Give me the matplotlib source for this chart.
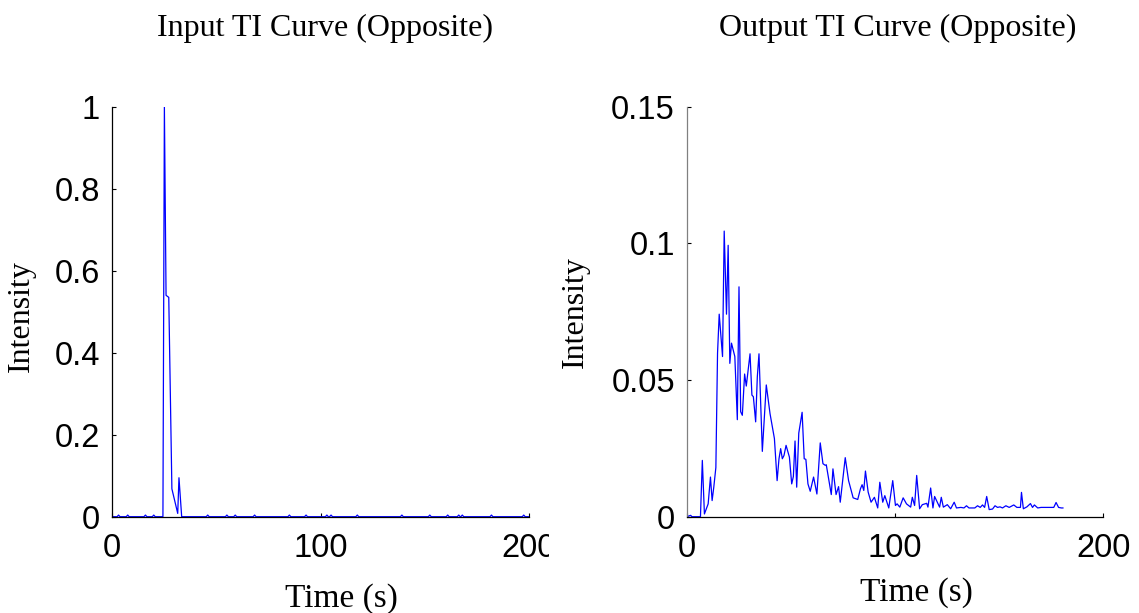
import numpy as np
import matplotlib
matplotlib.use("Agg")
import matplotlib.pyplot as plt
from matplotlib.transforms import Bbox

# Input time-intensity curve (opposite side)
t_in = [0, 2.3, 3.0, 3.7, 6.7, 7.4, 8.1, 15.2, 15.9, 16.6, 19.2, 19.9, 20.6,
        24.3, 25.0, 25.8, 27.1, 28.6, 31.4, 32.0, 33.3,
        45.1, 45.8, 46.5, 54.3, 55.0, 55.7, 58.3, 59.0, 59.7, 67.6, 68.3, 69.0,
        84.3, 85.0, 85.7, 92.3, 93.0, 93.7, 102.3, 103.0, 103.7, 104.3, 105.0,
        105.7, 116.9, 117.6, 118.3, 138.3, 139.0, 139.7, 151.7, 152.4, 153.1,
        160.3, 161.0, 161.7, 165.6, 166.3, 167.0, 167.3, 168.0, 168.7,
        181.3, 182.0, 182.7, 196.8, 197.5, 198.2, 200]
v_in = [0, 0, 0.004, 0, 0, 0.004, 0, 0, 0.004, 0, 0, 0.004, 0,
        0, 1.0, 0.54, 0.535, 0.068, 0.008, 0.095, 0,
        0, 0.004, 0, 0, 0.004, 0, 0, 0.004, 0, 0, 0.004, 0,
        0, 0.004, 0, 0, 0.004, 0, 0, 0.004, 0, 0, 0.004,
        0, 0, 0.004, 0, 0, 0.004, 0, 0, 0.004, 0,
        0, 0.004, 0, 0, 0.004, 0, 0, 0.004, 0,
        0, 0.004, 0, 0, 0.004, 0, 0]

# Output time-intensity curve (opposite side)
t_out = [0, 1.9, 2.5, 6.6, 7.5, 8.5, 10.3, 11.4, 12.2, 13.0, 14.0, 14.8, 15.6,
         17.2, 18.0, 19.1, 19.9, 20.7, 21.5, 23.1, 24.3, 25.1, 25.9, 26.7,
         27.8, 28.6, 30.4, 31.3, 32.0, 33.1, 33.9, 34.7, 36.3, 38.2, 40.0,
         42.1, 43.4, 44.3, 45.1, 45.9, 46.7, 47.7, 49.3, 50.4, 51.2, 52.0,
         52.8, 53.8, 55.4, 56.4, 57.2, 58.2, 59.3, 60.9, 62.5, 64.1, 65.4,
         66.5, 67.0, 69.4, 70.2, 71.7, 72.9, 73.7, 76.1, 77.7, 79.9, 82.1,
         83.4, 84.2, 85.0, 85.8, 87.1, 88.5, 90.1, 91.7, 92.7, 94.1, 95.1,
         97.0, 98.9, 100.2, 101.0, 102.3, 103.9, 105.5, 107.5, 108.3, 109.4,
         110.4, 111.8, 113.1, 115.2, 115.8, 117.1, 118.2, 119.0, 120.3, 121.4,
         122.2, 123.2, 125.1, 126.7, 128.4, 129.5, 131.6, 133.1, 134.3, 135.5,
         138.3, 139.6, 140.9, 142.0, 143.0, 144.0, 145.2, 146.8, 148.0, 149.2,
         150.4, 151.6, 153.2, 154.8, 157.0, 158.5, 160.2, 160.7, 161.6, 163.3,
         165.0, 166.0, 166.9, 168.5, 170.1, 175.0, 176.2, 177.3, 178.5, 179.8,
         180.6]
v_out = [0, 0.0005, 0, 0, 0.0206, 0.001, 0.0047, 0.0145, 0.0059, 0.0108, 0.018,
         0.0598, 0.0741, 0.0586, 0.1045, 0.0741, 0.0993, 0.0561, 0.0635, 0.0586,
         0.0355, 0.0841, 0.0384, 0.0371, 0.0522, 0.0478, 0.0596, 0.0445, 0.0439,
         0.0347, 0.0512, 0.0596, 0.0239, 0.0482, 0.0377, 0.0286, 0.0132, 0.0212,
         0.0249, 0.0212, 0.0224, 0.0261, 0.0218, 0.012, 0.0147, 0.0277, 0.0108,
         0.0306, 0.0382, 0.0212, 0.021, 0.012, 0.0093, 0.0145, 0.0083, 0.027,
         0.0194, 0.0188, 0.019, 0.0081, 0.0175, 0.0081, 0.011, 0.0053, 0.0216,
         0.0132, 0.0069, 0.0063, 0.0102, 0.0117, 0.0096, 0.0167, 0.009, 0.0053,
         0.0071, 0.0032, 0.0126, 0.0053, 0.0077, 0.0032, 0.0132, 0.0041, 0.0047,
         0.0035, 0.0069, 0.0047, 0.0035, 0.0071, 0.0041, 0.0151, 0.0029, 0.0044,
         0.0049, 0.0035, 0.0105, 0.0032, 0.0074, 0.0053, 0.0035, 0.0071, 0.0035,
         0.0044, 0.0029, 0.0053, 0.0032, 0.0034, 0.0032, 0.004, 0.0032, 0.0032,
         0.004, 0.0034, 0.0043, 0.0034, 0.0074, 0.0026, 0.0028, 0.004, 0.0034,
         0.0036, 0.0032, 0.004, 0.0034, 0.0043, 0.0034, 0.0034, 0.0089, 0.0029,
         0.0036, 0.0048, 0.0034, 0.0043, 0.0032, 0.0034, 0.0034, 0.0034, 0.0052,
         0.0034, 0.0032, 0.0032]

x_ticks = [0, 100, 200]
y_ticks_in = [0, 0.2, 0.4, 0.6, 0.8, 1]
y_labels_in = ["0", "0.2", "0.4", "0.6", "0.8", "1"]
y_ticks_out = [0, 0.05, 0.1, 0.15]
y_labels_out = ["0", "0.05", "0.1", "0.15"]

SERIF = "Liberation Serif"
SANS = "Liberation Sans"

fig = plt.figure(figsize=(11.39, 6.13), dpi=100)
ax1 = fig.add_axes([0.0986, 0.1571, 0.3658, 0.6688])
ax2 = fig.add_axes([0.6029, 0.1571, 0.3658, 0.6688])


def style_axis(ax, yticks, ylabels, ymax, ypad, spine_col):
    ax.set_xlim(0, 200)
    ax.set_ylim(0, ymax)
    ax.set_xticks(x_ticks)
    ax.set_xticklabels([str(v) for v in x_ticks])
    ax.set_yticks(yticks)
    ax.set_yticklabels(ylabels)
    for s in ("top", "right"):
        ax.spines[s].set_visible(False)
    ax.spines["bottom"].set_color("black")
    ax.spines["left"].set_color(spine_col)
    for s in ("bottom", "left"):
        ax.spines[s].set_linewidth(0.9)
    ax.tick_params(axis="both", direction="in", length=3, width=0.8,
                   labelsize=23.5, colors="black")
    ax.tick_params(axis="x", pad=11.5)
    ax.tick_params(axis="y", pad=ypad)
    for lab in ax.get_xticklabels() + ax.get_yticklabels():
        lab.set_fontfamily(SANS)


ax1.plot(t_in, v_in, color="#0000ff", lw=0.9)
style_axis(ax1, y_ticks_in, y_labels_in, 1, 9, "black")
ax1.set_title("Input TI Curve (Opposite)", fontsize=23, family=SERIF, pad=51)
ax1.title.set_x(0.51)
ax1.set_xlabel("Time (s)", fontsize=24, family=SERIF)
ax1.xaxis.set_label_coords(0.551, -0.162)
ax1.set_ylabel("Intensity", fontsize=23, family=SERIF, va="center")
ax1.yaxis.set_label_coords(-0.218, 0.49)

ax2.plot(t_out, v_out, color="#0000ff", lw=0.9)
style_axis(ax2, y_ticks_out, y_labels_out, 0.15, 8.5, "#808080")
ax2.set_title("Output TI Curve (Opposite)", fontsize=23, family=SERIF, pad=51)
ax2.title.set_x(0.507)
ax2.set_xlabel("Time (s)", fontsize=24, family=SERIF)
ax2.xaxis.set_label_coords(0.552, -0.147)
ax2.set_ylabel("Intensity", fontsize=23, family=SERIF, va="center")
ax2.yaxis.set_label_coords(-0.268, 0.499)

# the left panel's last x tick label is cut at the panel edge
fig.canvas.draw()
clip = Bbox.from_extents(0, 0, 549, 613)
for lab in ax1.get_xticklabels():
    lab.set_clip_box(clip)
    lab.set_clip_on(True)

fig.savefig("out.png", dpi=100)
